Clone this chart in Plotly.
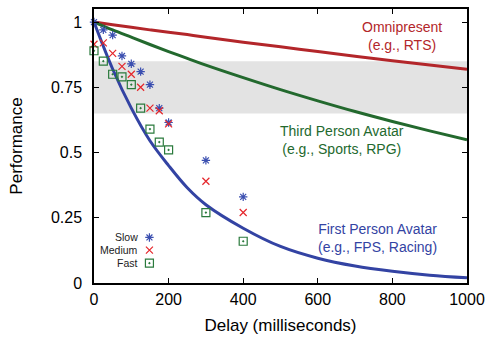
import plotly.graph_objects as go

# Delay samples (ms) for the model curves
curve_delay = [0, 50, 100, 150, 200, 250, 300, 400, 500, 600, 700, 800, 900, 1000]
omnipresent = [1.0, 0.990, 0.980, 0.970, 0.961, 0.952, 0.942, 0.923, 0.905, 0.887, 0.869, 0.852, 0.835, 0.819]
third_person = [1.0, 0.970, 0.942, 0.914, 0.887, 0.861, 0.835, 0.787, 0.741, 0.698, 0.657, 0.619, 0.583, 0.549]
first_person = [1.0, 0.82, 0.67, 0.545, 0.45, 0.365, 0.30, 0.21, 0.14, 0.095, 0.065, 0.045, 0.03, 0.02]

# Measured performance by delay for three game speeds
delay = [0, 25, 50, 75, 100, 125, 150, 175, 200, 300, 400]
slow = [1.0, 0.97, 0.95, 0.87, 0.84, 0.81, 0.76, 0.67, 0.615, 0.47, 0.33]
medium = [0.915, 0.92, 0.88, 0.83, 0.80, 0.75, 0.67, 0.66, 0.61, 0.39, 0.27]
fast = [0.89, 0.85, 0.80, 0.79, 0.76, 0.67, 0.59, 0.54, 0.51, 0.27, 0.16]

band = [0.65, 0.85]

RED = "#b3262a"
GREEN = "#23692e"
BLUE = "#3343a3"
PT_BLUE = "#3b4fb0"
PT_RED = "#e5262b"
PT_GREEN = "#2a7a3c"
FONT = "Liberation Sans, Arial, Helvetica, sans-serif"

fig = go.Figure()

fig.add_shape(type="rect", xref="paper", yref="y", x0=0, x1=1, y0=band[0], y1=band[1],
              fillcolor="#e3e3e3", line_width=0, layer="below")

for ys, col in [(omnipresent, RED), (third_person, GREEN), (first_person, BLUE)]:
    fig.add_trace(go.Scatter(x=curve_delay, y=ys, mode="lines", line=dict(color=col, width=3, shape="spline"),
                             showlegend=False, hoverinfo="skip"))

series = [
    ("Slow", slow, "asterisk-open", PT_BLUE, 7),
    ("Medium", medium, "x-thin-open", PT_RED, 7),
    ("Fast", fast, "square-open-dot", PT_GREEN, 8),
]
for name, ys, sym, col, sz in series:
    fig.add_trace(go.Scatter(x=delay, y=ys, mode="markers", name=name, cliponaxis=False,
                             marker=dict(symbol=sym, color=col, size=sz, line=dict(color=col, width=1.2)),
                             showlegend=False))

# Key: labels on the left, sample markers on the right
key_rows = [0.83, 0.5, 0.16]
for (name, ys, sym, col, sz), ky in zip(series, key_rows):
    fig.add_trace(go.Scatter(x=[0.81], y=[ky], xaxis="x2", yaxis="y2", mode="markers", cliponaxis=False,
                             marker=dict(symbol=sym, color=col, size=sz, line=dict(color=col, width=1.2)),
                             showlegend=False, hoverinfo="skip"))
    fig.add_annotation(x=0.28, y=ky, xref="x2", yref="y2", text=name, showarrow=False,
                       xanchor="right", yanchor="middle", xshift=2,
                       font=dict(size=10.5, color="#222", family=FONT))

# Curve captions
labels = [
    ("Omnipresent<br>(e.g., RTS)", 825, 0.947, RED),
    ("Third Person Avatar<br>(e.g., Sports, RPG)", 666, 0.548, GREEN),
    ("First Person Avatar<br>(e.g., FPS, Racing)", 759, 0.173, BLUE),
]
for txt, x, y, col in labels:
    fig.add_annotation(x=x, y=y, text=txt, showarrow=False, xanchor="center", yanchor="middle",
                       align="center", font=dict(size=14, color=col, family=FONT))

axis_common = dict(showline=True, linecolor="black", linewidth=1.5, mirror="ticks", ticks="inside",
                   ticklen=5, tickcolor="black", showgrid=False, zeroline=False,
                   tickfont=dict(size=16, family=FONT, color="black"))

fig.update_layout(
    width=492, height=341,
    margin=dict(l=94, r=21, t=7, b=58),
    paper_bgcolor="white", plot_bgcolor="white",
    xaxis=dict(range=[0, 1000], tickvals=[0, 200, 400, 600, 800, 1000], ticklabelstandoff=1,
               title=dict(text="Delay (milliseconds)", font=dict(size=17, family=FONT, color="black"), standoff=12),
               **axis_common),
    yaxis=dict(range=[0, 1.05], tickvals=[0, 0.25, 0.5, 0.75, 1], ticktext=["0", "0.25", "0.5", "0.75", "1"],
               ticklabelstandoff=7,
               title=dict(text="Performance", font=dict(size=17, family=FONT, color="black"), standoff=24),
               **axis_common),
    xaxis2=dict(domain=[0.10, 0.16], range=[0, 1], visible=False, fixedrange=True),
    yaxis2=dict(domain=[0.05, 0.19], range=[0, 1], visible=False, fixedrange=True, anchor="x2"),
    showlegend=False,
)

fig.write_html("out.html")
